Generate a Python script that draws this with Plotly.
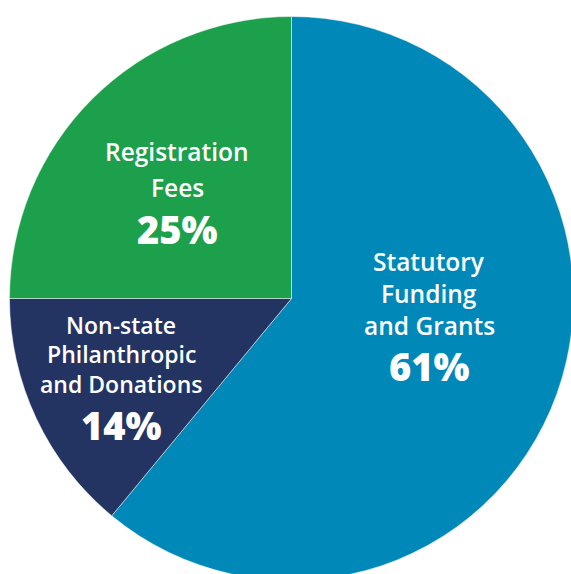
import plotly.graph_objects as go

labels = ["Statutory Funding and Grants", "Non-state Philanthropic and Donations", "Registration Fees"]
values = [61, 14, 25]
colors = ["#0088B9", "#233463", "#1CA04B"]

# label text lines per slice
label_lines = [
    ["Statutory", "Funding", "and Grants"],
    ["Non-state", "Philanthropic", "and Donations"],
    ["Registration", "Fees"],
]
pct_text = ["61%", "14%", "25%"]

W, H = 580, 590
cx, cy, R = 291.5, 298.5, 282

fig = go.Figure(go.Pie(
    labels=labels, values=values, sort=False, direction="clockwise", rotation=0,
    marker=dict(colors=colors, line=dict(color="rgba(255,255,255,0.6)", width=0.8)),
    textinfo="none", hoverinfo="label+percent", showlegend=False,
    domain=dict(x=[(cx - R) / W, (cx + R) / W], y=[1 - (cy + R) / H, 1 - (cy - R) / H]),
))

# label layout (pixel positions of text line centres)
line_pos = [
    (429, [261, 293, 325], 366, 24.5, 38),
    (121, [325, 354, 384], 425, 23, 38),
    (177, [151, 187], 229, 24.5, 38),
]
FONT = "'Open Sans', Lato, sans-serif"
ann = []
for lines, pct, (x, ys, yp, fs, ps) in zip(label_lines, pct_text, line_pos):
    for t, y in zip(lines, ys):
        ann.append(dict(x=x / W, y=1 - y / H, xref="paper", yref="paper", text=t,
                        showarrow=False, xanchor="center", yanchor="middle",
                        font=dict(family=FONT, size=fs, color="white", weight=600)))
    ann.append(dict(x=x / W, y=1 - yp / H, xref="paper", yref="paper", text=pct,
                    showarrow=False, xanchor="center", yanchor="middle",
                    font=dict(family=FONT, size=ps, color="white", weight=800)))

fig.update_layout(width=W, height=H, margin=dict(l=0, r=0, t=0, b=0),
                  paper_bgcolor="white", plot_bgcolor="white", annotations=ann)

fig.write_html("out.html", config={"displayModeBar": False},
               post_script="document.body.style.margin='0';document.body.style.overflow='hidden';document.documentElement.style.overflow='hidden';")
